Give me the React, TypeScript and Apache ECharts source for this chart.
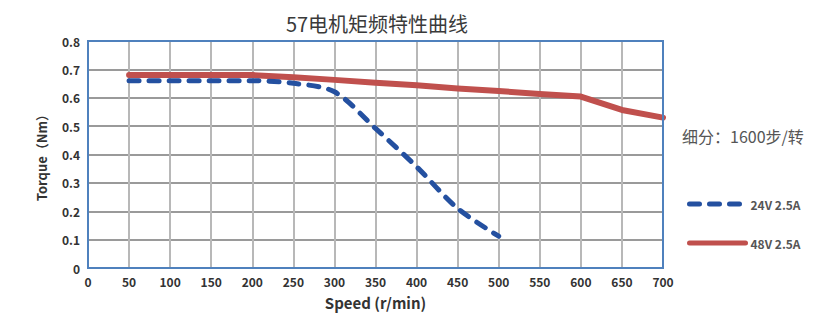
import React, { useEffect, useRef } from "react";
import * as echarts from "echarts";

const speeds = [50, 100, 150, 200, 250, 300, 350, 400, 450, 500, 550, 600, 650, 700];
const torque24V = [0.66, 0.66, 0.66, 0.66, 0.651, 0.621, 0.492, 0.357, 0.21, 0.112];
const torque48V = [0.68, 0.68, 0.68, 0.68, 0.672, 0.663, 0.653, 0.644, 0.633, 0.624, 0.613, 0.604, 0.557, 0.53];
const seriesNames = ["24V 2.5A", "48V 2.5A"];
const titleText = "57电机矩频特性曲线";
const noteText = "细分：1600步/转";
const xName = "Speed (r/min)";
const yName = "Torque（Nm）";

const FONT = "'Noto Sans CJK SC', 'Noto Sans', sans-serif";

export default function App() {
  const ref = useRef<HTMLDivElement>(null);
  useEffect(() => {
    document.body.style.margin = "0";
    const chart = echarts.init(ref.current!, undefined, { renderer: "svg" });
    chart.setOption({
      animation: false,
      backgroundColor: "#ffffff",
      textStyle: { fontFamily: FONT },
      title: {
        text: titleText,
        left: 372,
        textAlign: "center",
        top: 8,
        textStyle: { fontSize: 20, fontWeight: "normal", color: "#3a3a3a", fontFamily: FONT },
      },
      grid: {
        left: 88,
        right: 176,
        top: 41,
        bottom: 52,
        show: true,
        borderColor: "#4f81bd",
        borderWidth: 2,
        backgroundColor: "transparent",
        z: 3,
      },
      legend: {
        orient: "vertical",
        left: 682,
        top: 193,
        itemWidth: 56,
        itemHeight: 12,
        itemGap: 27,
        itemStyle: { opacity: 0 },
        lineStyle: { width: 5, cap: "round" },
        textStyle: { fontSize: 12, color: "#555", fontWeight: "bold", fontFamily: FONT },
        data: seriesNames,
      },
      graphic: [
        {
          type: "text",
          left: 682,
          top: 128,
          style: { text: noteText, fontSize: 16, fill: "#555", fontFamily: FONT },
        },
      ],
      xAxis: {
        type: "value",
        min: 0,
        max: 700,
        interval: 50,
        name: xName,
        nameLocation: "middle",
        nameGap: 27,
        nameTextStyle: { fontSize: 15, color: "#333", fontWeight: "bold", fontFamily: FONT },
        axisLine: { show: true, lineStyle: { color: "#8c8c8c", width: 2 } },
        axisTick: { show: false },
        axisLabel: { fontSize: 12, color: "#333", margin: 7, fontWeight: "bold", fontFamily: FONT },
        splitLine: { show: true, showMaxLine: false, lineStyle: { color: "#b8b8b8", width: 2 } },
      },
      yAxis: {
        type: "value",
        min: 0,
        max: 0.8,
        interval: 0.1,
        name: yName,
        nameLocation: "middle",
        nameGap: 40,
        nameRotate: 90,
        nameTextStyle: { fontSize: 13, color: "#333", fontWeight: "bold", fontFamily: FONT },
        axisLine: { show: true, lineStyle: { color: "#8c8c8c", width: 2 } },
        axisTick: { show: false },
        axisLabel: { fontSize: 12, color: "#333", margin: 8, fontWeight: "bold", fontFamily: FONT },
        splitLine: { show: true, showMaxLine: false, lineStyle: { color: "#9a9a9a", width: 2 } },
      },
      series: [
        {
          name: seriesNames[0],
          type: "line",
          symbol: "none",
          smooth: 0.3,
          data: torque24V.map((v, i) => [speeds[i], v]),
          lineStyle: { color: "#2450a0", width: 5, type: [10, 10], cap: "round" },
          itemStyle: { color: "#2450a0" },
          z: 3,
        },
        {
          name: seriesNames[1],
          type: "line",
          symbol: "none",
          smooth: false,
          data: torque48V.map((v, i) => [speeds[i], v]),
          lineStyle: { color: "#c0504d", width: 6, cap: "round", join: "round" },
          itemStyle: { color: "#c0504d" },
          z: 2,
        },
      ],
    });
    return () => chart.dispose();
  }, []);
  return <div ref={ref} style={{ width: 839, height: 320, position: "absolute", left: 0, top: 0 }} />;
}
